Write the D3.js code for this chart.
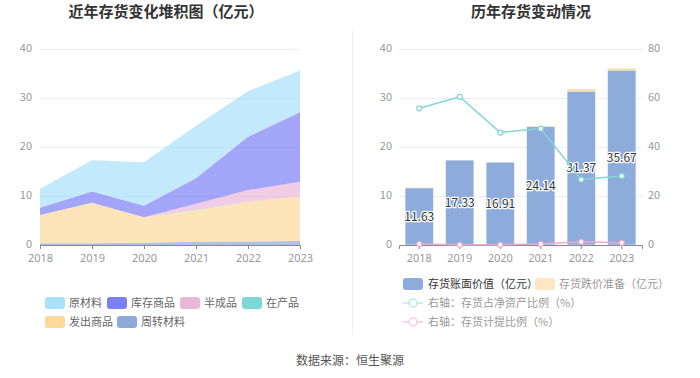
<!DOCTYPE html>
<html><head><meta charset="utf-8">
<script src="https://cdn.jsdelivr.net/npm/d3@7"></script>
<style>
body{margin:0;background:#fff;}
svg{display:block;font-family:"Noto Sans CJK SC","Noto Sans",sans-serif;}
</style></head>
<body><svg id="c" width="700" height="378"></svg>
<script>
const years = ["2018","2019","2020","2021","2022","2023"];
// left chart: stacked areas (亿元), bottom to top
const zhouzhuan = [0.35,0.35,0.45,0.65,0.7,0.8];   // 周转材料
const fachu = [5.75,8.25,5.2,6.45,8.15,9.1];        // 发出商品
const zaichan = [0,0,0,0.1,0.05,0];                 // 在产品
const banchengpin = [0,0,0,1.2,2.3,3.0];            // 半成品
const kucun = [1.5,2.3,2.35,5.2,10.9,14.2];         // 库存商品
const yuancailiao = [3.9,6.4,8.9,10.75,9.3,8.5];    // 原材料
const leftTicks = [0,10,20,30,40];
// right chart
const bookValue = [11.63,17.33,16.91,24.14,31.37,35.67];
const provision = [0.05,0.02,0.02,0.1,0.4,0.33];
const ratioNetAssets = [55.8,60.5,45.9,47.5,26.7,28.2];
const ratioProvision = [0.4,0.1,0.1,0.4,1.3,0.9];
const rightTicksL = [0,10,20,30,40];
const rightTicksR = [0,20,40,60,80];

const svg = d3.select("#c");
const axisColor = "#999";
const gridColor = "#e8edf5";

// titles
svg.append("text").attr("x",166).attr("y",17).attr("text-anchor","middle")
  .attr("font-size",15).attr("font-weight","bold").attr("fill","#333").text("近年存货变化堆积图（亿元）");
svg.append("text").attr("x",531).attr("y",17).attr("text-anchor","middle")
  .attr("font-size",15).attr("font-weight","bold").attr("fill","#333").text("历年存货变动情况");
// divider
svg.append("line").attr("x1",352.5).attr("x2",352.5).attr("y1",30).attr("y2",335).attr("stroke","#eeeeee");
// source
svg.append("text").attr("x",350).attr("y",365).attr("text-anchor","middle")
  .attr("font-size",12).attr("fill","#555").text("数据来源：恒生聚源");

// ---------- left chart ----------
const series = [
  {name:"周转材料", data:zhouzhuan, color:"#8eaadb"},
  {name:"发出商品", data:fachu, color:"#fdd99b"},
  {name:"在产品", data:zaichan, color:"#7fd6d6"},
  {name:"半成品", data:banchengpin, color:"#e9b8d9"},
  {name:"库存商品", data:kucun, color:"#7b7ff5"},
  {name:"原材料", data:yuancailiao, color:"#a8e1fb"}
];
const x1 = d3.scalePoint().domain(years).range([40,300]);
const y1 = d3.scaleLinear().domain([0,40]).range([245,49]);
const g1 = svg.append("g");
g1.selectAll(".grid").data(leftTicks.filter(d=>d>0)).join("line")
  .attr("x1",40).attr("x2",300).attr("y1",d=>y1(d)+0.5).attr("y2",d=>y1(d)+0.5).attr("stroke",gridColor);
const table = years.map((y,i)=>{const o={year:y}; series.forEach(s=>o[s.name]=s.data[i]); return o;});
const stack = d3.stack().keys(series.map(s=>s.name))(table);
const area = d3.area().x(d=>x1(d.data.year)).y0(d=>y1(d[0])).y1(d=>y1(d[1]));
g1.selectAll(".area").data(stack).join("path")
  .attr("d",area).attr("fill",(d,i)=>series[i].color).attr("fill-opacity",0.7);
const ax1 = d3.axisBottom(x1).tickSize(4).tickPadding(5);
const gx1 = g1.append("g").attr("transform","translate(0,245)").call(ax1);
gx1.select(".domain").attr("stroke","#888");
gx1.selectAll(".tick line").attr("stroke","#888");
gx1.selectAll("text").attr("fill",axisColor).attr("font-size",11).attr("font-family","'Noto Sans',sans-serif");
g1.selectAll(".yl").data(leftTicks).join("text").attr("x",32).attr("y",d=>y1(d)+3)
  .attr("text-anchor","end").attr("font-size",11).attr("fill",axisColor).text(d=>d);

// left legend
const legL = [
  {name:"原材料",color:"#a8e1fb",x:45,y:303},
  {name:"库存商品",color:"#7b7ff5",x:107,y:303},
  {name:"半成品",color:"#e9b8d9",x:180,y:303},
  {name:"在产品",color:"#7fd6d6",x:242,y:303},
  {name:"发出商品",color:"#fdd99b",x:45,y:322},
  {name:"周转材料",color:"#8eaadb",x:117,y:322}
];
legL.forEach(l=>{
  svg.append("rect").attr("x",l.x).attr("y",l.y-6).attr("width",20).attr("height",12).attr("rx",3).attr("fill",l.color);
  svg.append("text").attr("x",l.x+24).attr("y",l.y+4).attr("font-size",11).attr("fill","#666").text(l.name);
});

// ---------- right chart ----------
const x2 = d3.scaleBand().domain(years).range([399,642]).paddingInner(0.3).paddingOuter(0.15);
const y2 = d3.scaleLinear().domain([0,40]).range([245,49]);
const y2r = d3.scaleLinear().domain([0,80]).range([245,49]);
const g2 = svg.append("g");
g2.selectAll(".grid").data(rightTicksL.filter(d=>d>0)).join("line")
  .attr("x1",399).attr("x2",642).attr("y1",d=>y2(d)+0.5).attr("y2",d=>y2(d)+0.5).attr("stroke",gridColor);
g2.selectAll(".bv").data(bookValue).join("rect")
  .attr("x",(d,i)=>x2(years[i])).attr("width",x2.bandwidth())
  .attr("y",d=>y2(d)).attr("height",d=>y2(0)-y2(d)).attr("fill","#8eacdb")
  .attr("stroke","#fff").attr("stroke-width",0.5);
g2.selectAll(".pv").data(provision).join("rect")
  .attr("x",(d,i)=>x2(years[i])).attr("width",x2.bandwidth())
  .attr("y",(d,i)=>y2(bookValue[i]+d)).attr("height",(d,i)=>y2(bookValue[i])-y2(bookValue[i]+d)).attr("fill","#fdd89e");
const ax2 = d3.axisBottom(x2).tickSize(4).tickPadding(5);
const gx2 = g2.append("g").attr("transform","translate(0,245)").call(ax2);
gx2.select(".domain").attr("stroke","#888");
gx2.selectAll(".tick line").attr("stroke","#888");
gx2.selectAll("text").attr("fill",axisColor).attr("font-size",11).attr("font-family","'Noto Sans',sans-serif");
g2.selectAll(".yl").data(rightTicksL).join("text").attr("x",392).attr("y",d=>y2(d)+3)
  .attr("text-anchor","end").attr("font-size",11).attr("fill",axisColor).text(d=>d);
g2.selectAll(".yr").data(rightTicksR).join("text").attr("x",648).attr("y",d=>y2r(d)+3)
  .attr("text-anchor","start").attr("font-size",11).attr("fill",axisColor).text(d=>d);
// bar labels
g2.selectAll(".bl").data(bookValue).join("text")
  .attr("x",(d,i)=>x2(years[i])+x2.bandwidth()/2).attr("y",d=>y2(d/2)+4)
  .attr("text-anchor","middle").attr("font-size",12).attr("fill","#333")
  .attr("stroke","#fff").attr("stroke-width",2.5).attr("paint-order","stroke")
  .attr("stroke-linejoin","round").text(d=>d.toFixed(2));
// lines
const cx = y=>x2(y)+x2.bandwidth()/2;
function drawLine(data,color){
  const line = d3.line().x((d,i)=>cx(years[i])).y(d=>y2r(d));
  g2.append("path").datum(data).attr("d",line).attr("fill","none").attr("stroke",color).attr("stroke-width",1.5);
  g2.selectAll(null).data(data).join("circle").attr("cx",(d,i)=>cx(years[i])).attr("cy",d=>y2r(d))
    .attr("r",2.5).attr("fill","#fff").attr("stroke",color).attr("stroke-width",1.2);
}
drawLine(ratioNetAssets,"#7fd6d6");
drawLine(ratioProvision,"#f0a8d3");

// right legend
svg.append("rect").attr("x",403).attr("y",278).attr("width",20).attr("height",12).attr("rx",3).attr("fill","#8eacdb");
svg.append("text").attr("x",428).attr("y",288).attr("font-size",11).attr("fill","#333").text("存货账面价值（亿元）");
svg.append("rect").attr("x",535).attr("y",278).attr("width",20).attr("height",12).attr("rx",3).attr("fill","#fde6c4");
svg.append("text").attr("x",559).attr("y",288).attr("font-size",11).attr("fill","#999").text("存货跌价准备（亿元）");
[{t:"右轴：存货占净资产比例（%）",c:"#b6e9e9",y:303},{t:"右轴：存货计提比例（%）",c:"#f5cde5",y:322}].forEach(l=>{
  svg.append("line").attr("x1",403).attr("x2",423).attr("y1",l.y).attr("y2",l.y).attr("stroke",l.c).attr("stroke-width",1.5);
  svg.append("circle").attr("cx",413).attr("cy",l.y).attr("r",4).attr("fill","#fff").attr("stroke",l.c).attr("stroke-width",1.5);
  svg.append("text").attr("x",428).attr("y",l.y+4).attr("font-size",11).attr("fill","#999").text(l.t);
});
</script></body></html>
